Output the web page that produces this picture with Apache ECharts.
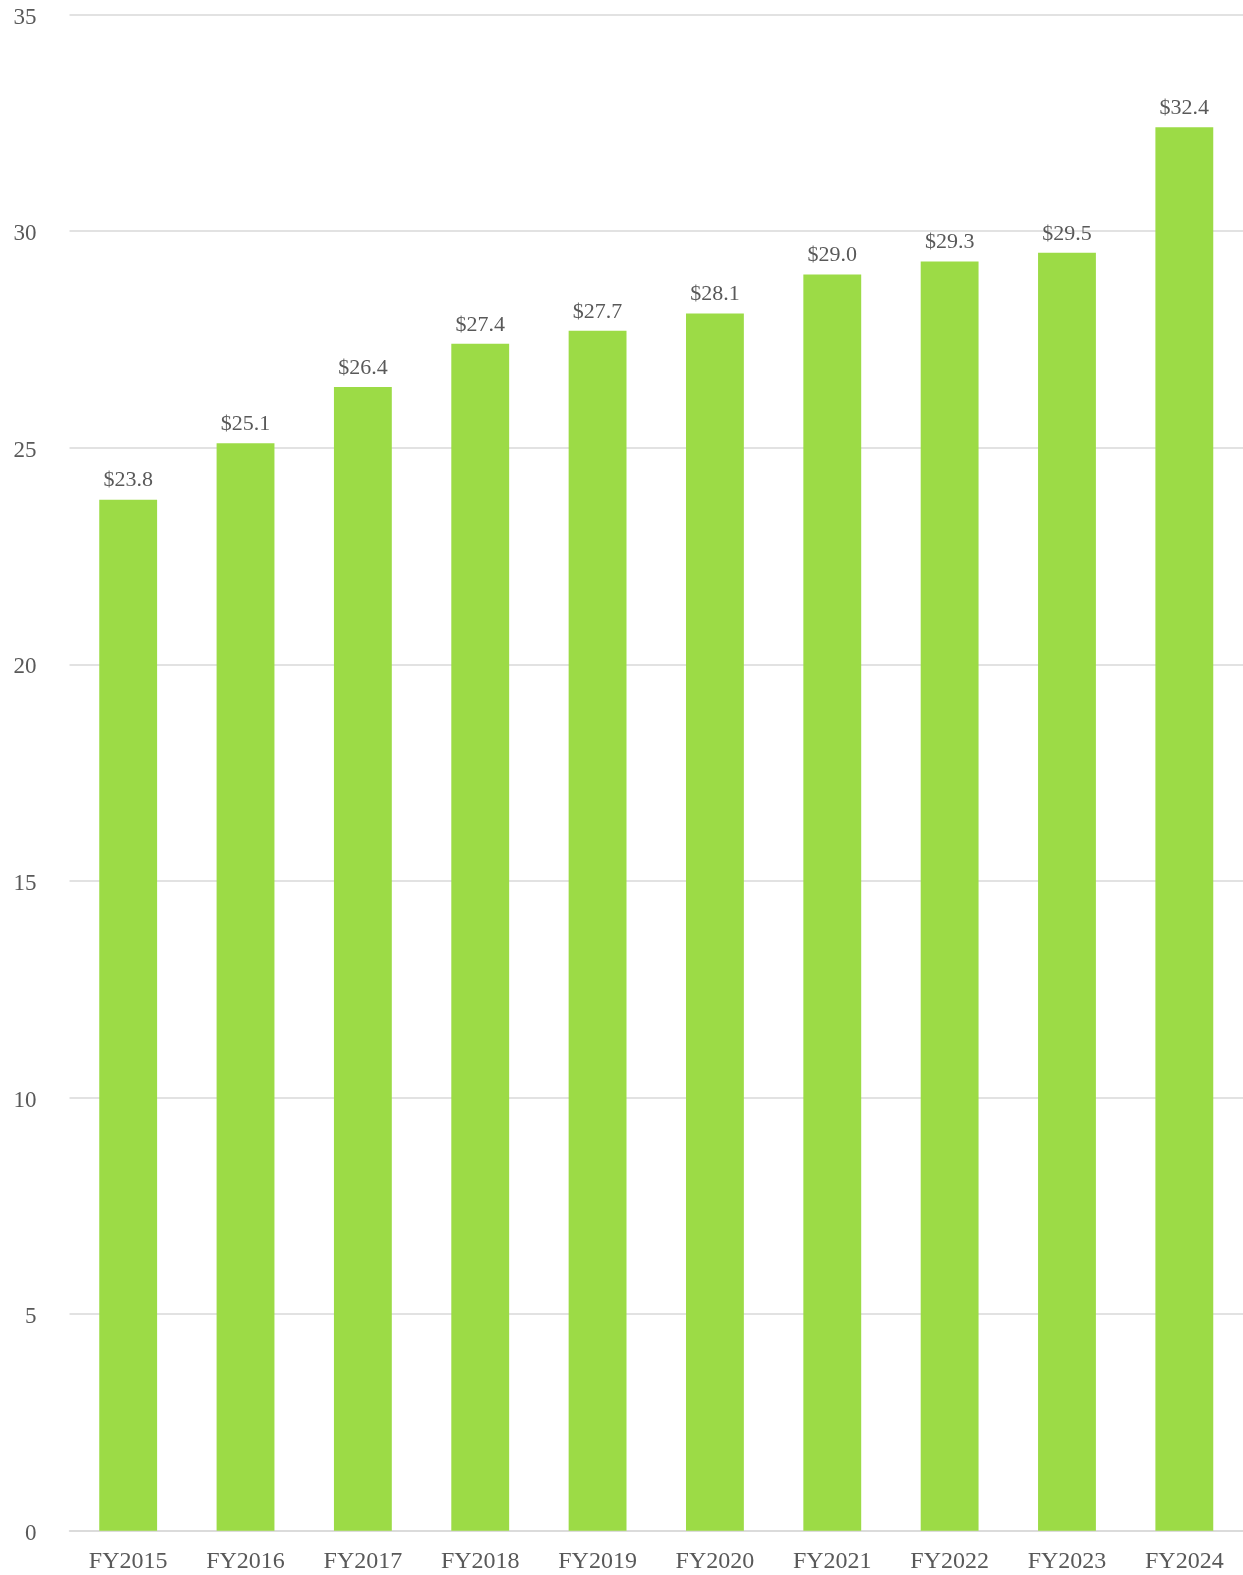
<!DOCTYPE html>
<html>
<head>
<meta charset="utf-8">
<script src="https://cdn.jsdelivr.net/npm/echarts@6/dist/echarts.min.js"></script>
<style>
  html, body { margin: 0; padding: 0; background: #ffffff; }
  #chart { width: 1243px; height: 1575px; }
</style>
</head>
<body>
<div id="chart"></div>
<script>
// Fiscal years along the x axis
const categories = ['FY2015', 'FY2016', 'FY2017', 'FY2018', 'FY2019', 'FY2020', 'FY2021', 'FY2022', 'FY2023', 'FY2024'];
// Yearly values (in $)
const values = [23.8, 25.1, 26.4, 27.4, 27.7, 28.1, 29.0, 29.3, 29.5, 32.4];
// Value axis range
const yMin = 0;
const yMax = 35;
const yStep = 5;

const textColor = '#595959';
const fontFamily = '"Liberation Serif", "Times New Roman", serif';

const chart = echarts.init(document.getElementById('chart'), null, { renderer: 'canvas' });

chart.setOption({
  backgroundColor: '#ffffff',
  animation: false,
  grid: { left: 69.5, right: -7, top: 14.5, bottom: 44.3, containLabel: false },
  xAxis: {
    type: 'category',
    data: categories,
    axisLine: { show: true, lineStyle: { color: '#d9d9d9', width: 1.5 } },
    axisTick: { show: false },
    axisLabel: { color: textColor, fontFamily: fontFamily, fontSize: 24, margin: 19 }
  },
  yAxis: {
    type: 'value',
    min: yMin,
    max: yMax,
    interval: yStep,
    axisLine: { show: false },
    axisTick: { show: false },
    splitLine: { lineStyle: { color: '#d9d9d9', width: 1.5 } },
    axisLabel: {
      color: textColor,
      fontFamily: fontFamily,
      fontSize: 23,
      margin: 33,
      // nudge tick values slightly below their grid lines
      formatter: v => '{t|' + v + '}',
      rich: { t: { color: textColor, fontFamily: fontFamily, fontSize: 23, padding: [6, 0, 0, 0] } }
    }
  },
  series: [{
    type: 'bar',
    data: values,
    barWidth: '49.3%',
    itemStyle: { color: '#9cdb46' },
    label: {
      show: true,
      position: 'top',
      distance: 8,
      color: textColor,
      fontFamily: fontFamily,
      fontSize: 22,
      formatter: p => '$' + p.value.toFixed(1)
    }
  }]
});
</script>
</body>
</html>
